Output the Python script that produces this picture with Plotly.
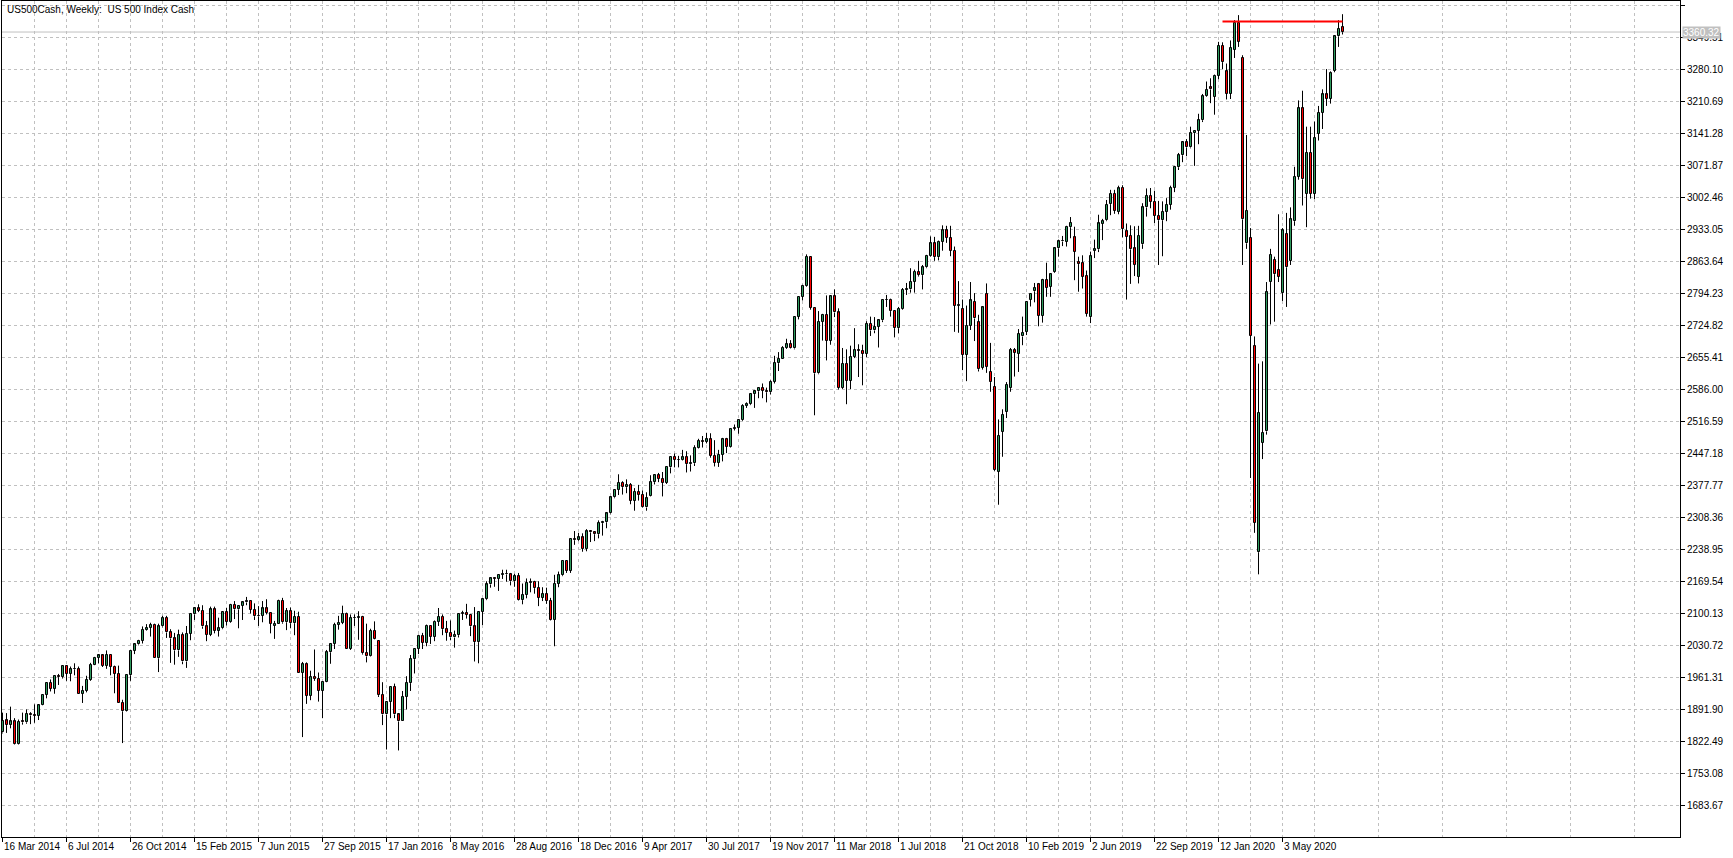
import plotly.graph_objects as go

# ---------------- data: weekly OHLC, week of 16 Mar 2014 .. week of 16 Aug 2020 ----------------
opens = [
    # 2014
    1841, 1867, 1857, 1865, 1815, 1865, 1863, 1881, 1878, 1877, 1901, 1923, 1949, 1936, 1963, 1961,
    1985, 1968, 1978, 1978, 1925, 1932, 1955, 1988, 2003, 2008, 1986, 2010, 1983, 1968, 1906, 1887,
    1965, 2018, 2032, 2040, 2064, 2068, 2075, 2002, 2071,
    # 2015
    2089, 2058, 2045, 2019, 2052, 1995, 2055, 2097, 2110, 2105, 2071, 2053, 2108, 2061, 2067, 2102,
    2081, 2118, 2108, 2116, 2123, 2126, 2107, 2093, 2094, 2110, 2101, 2073, 2076, 2127, 2080, 2104,
    2078, 2092, 1971, 1989, 1921, 1961, 1958, 1931, 1951, 2015, 2033, 2075, 2079, 2099, 2023, 2089,
    2090, 2092, 2013, 2006,
    # 2016
    2061, 2040, 1922, 1880, 1907, 1940, 1880, 1865, 1918, 1948, 2000, 2022, 2050, 2036, 2073, 2048,
    2081, 2092, 2065, 2057, 2047, 2052, 2098, 2100, 2096, 2071, 2037, 2103, 2130, 2162, 2175, 2174,
    2183, 2185, 2184, 2169, 2180, 2128, 2139, 2165, 2168, 2154, 2133, 2141, 2126, 2085, 2164, 2182,
    2213, 2192, 2260, 2258, 2264,
    # 2017
    2239, 2277, 2275, 2271, 2295, 2297, 2316, 2351, 2367, 2383, 2373, 2378, 2344, 2363, 2356, 2329,
    2355, 2384, 2399, 2391, 2382, 2416, 2439, 2432, 2433, 2438, 2423, 2425, 2459, 2473, 2472, 2477,
    2441, 2426, 2443, 2477, 2461, 2500, 2502, 2519, 2549, 2553, 2575, 2581, 2588, 2582, 2579, 2602,
    2642, 2652, 2676, 2683,
    # 2018
    2674, 2743, 2786, 2810, 2873, 2762, 2620, 2732, 2747, 2691, 2787, 2752, 2588, 2641, 2604, 2656,
    2670, 2669, 2663, 2728, 2713, 2721, 2735, 2779, 2780, 2755, 2718, 2760, 2801, 2802, 2819, 2840,
    2833, 2850, 2875, 2902, 2872, 2905, 2930, 2914, 2886, 2767, 2760, 2660, 2723, 2775, 2731, 2632,
    2792, 2623, 2591, 2406,
    # 2019
    2493, 2536, 2588, 2670, 2662, 2700, 2710, 2779, 2798, 2813, 2745, 2822, 2808, 2840, 2891, 2906,
    2905, 2937, 2915, 2861, 2859, 2831, 2742, 2886, 2889, 2944, 2952, 2987, 3010, 2970, 3022, 2928,
    2918, 2891, 2830, 2900, 2980, 3005, 2992, 2962, 2952, 2970, 2986, 3023, 3067, 3093, 3121, 3110,
    3141, 3146, 3169, 3222,
    # 2020
    3240, 3220, 3265, 3330, 3275, 3226, 3322, 3380, 3305, 2902, 2914, 2679, 2232, 2469, 2494, 2818,
    2866, 2845, 2794, 2922, 2864, 2950, 3046, 3195, 3010, 3098, 3009, 3140, 3185, 3225, 3216, 3276,
    3351, 3371,
]

highs = [
    # 2014
    1884, 1883, 1897, 1872, 1869, 1884, 1891, 1885, 1902, 1901, 1924, 1950, 1956, 1963, 1968, 1986,
    1986, 1984, 1991, 1984, 1942, 1964, 1992, 2005, 2011, 2009, 2019, 2011, 1986, 1986, 1912, 1965,
    2019, 2034, 2042, 2071, 2076, 2079, 2077, 2077, 2094,
    # 2015
    2094, 2065, 2057, 2064, 2058, 2072, 2097, 2111, 2119, 2117, 2083, 2114, 2114, 2090, 2103, 2111,
    2120, 2126, 2117, 2124, 2135, 2127, 2121, 2115, 2126, 2130, 2102, 2083, 2129, 2133, 2111, 2112,
    2105, 2103, 1994, 1993, 1975, 2021, 1971, 1952, 2020, 2034, 2079, 2094, 2116, 2101, 2097, 2097,
    2104, 2094, 2077, 2066,
    # 2016
    2082, 2041, 1950, 1909, 1940, 1947, 1881, 1931, 1963, 2009, 2023, 2053, 2057, 2075, 2074, 2084,
    2111, 2097, 2083, 2084, 2062, 2100, 2105, 2120, 2097, 2113, 2104, 2132, 2169, 2176, 2178, 2183,
    2194, 2194, 2187, 2185, 2187, 2164, 2175, 2175, 2170, 2169, 2156, 2155, 2133, 2183, 2190, 2214,
    2214, 2260, 2278, 2274, 2273,
    # 2017
    2282, 2279, 2278, 2301, 2300, 2319, 2352, 2368, 2401, 2386, 2390, 2382, 2371, 2378, 2366, 2362,
    2399, 2400, 2404, 2406, 2416, 2440, 2446, 2441, 2454, 2451, 2442, 2464, 2478, 2484, 2491, 2490,
    2475, 2454, 2480, 2480, 2501, 2509, 2520, 2553, 2557, 2576, 2583, 2590, 2598, 2589, 2605, 2658,
    2666, 2679, 2695, 2692,
    # 2018
    2744, 2787, 2812, 2878, 2874, 2763, 2755, 2749, 2789, 2789, 2802, 2761, 2675, 2672, 2680, 2718,
    2683, 2682, 2733, 2743, 2742, 2737, 2780, 2790, 2782, 2757, 2764, 2805, 2816, 2848, 2845, 2864,
    2855, 2877, 2917, 2916, 2908, 2941, 2940, 2940, 2895, 2820, 2780, 2767, 2818, 2794, 2747, 2766,
    2815, 2686, 2612, 2520,
    # 2019
    2542, 2601, 2675, 2675, 2716, 2743, 2776, 2794, 2816, 2816, 2825, 2860, 2836, 2894, 2910, 2918,
    2940, 2959, 2938, 2873, 2876, 2843, 2884, 2910, 2964, 2955, 2996, 3018, 3018, 3027, 3028, 2945,
    2941, 2939, 2940, 2989, 3021, 3022, 3016, 2994, 2993, 3000, 3027, 3067, 3098, 3122, 3128, 3155,
    3146, 3183, 3226, 3253,
    # 2020
    3260, 3268, 3339, 3338, 3292, 3342, 3386, 3397, 3310, 3137, 2935, 2700, 2641, 2646, 2818, 2890,
    2873, 2965, 2935, 2968, 2980, 3068, 3212, 3233, 3155, 3155, 3166, 3200, 3236, 3280, 3275, 3352,
    3386, 3399,
]

lows = [
    # 2014
    1839, 1840, 1850, 1814, 1814, 1858, 1860, 1859, 1862, 1868, 1900, 1915, 1930, 1925, 1944, 1958,
    1953, 1952, 1965, 1925, 1905, 1928, 1953, 1987, 1991, 1983, 1979, 1965, 1926, 1906, 1818, 1886,
    1953, 2011, 2030, 2034, 2062, 2049, 2002, 1972, 2069,
    # 2015
    2046, 1992, 1988, 2005, 1989, 1981, 2041, 2085, 2102, 2066, 2039, 2050, 2056, 2049, 2065, 2073,
    2079, 2087, 2067, 2085, 2117, 2099, 2085, 2072, 2080, 2097, 2056, 2044, 2076, 2077, 2063, 2067,
    2052, 1970, 1831, 1903, 1911, 1953, 1908, 1872, 1950, 1990, 2022, 2064, 2076, 2022, 2020, 2072,
    2042, 2010, 1993, 2005,
    # 2016
    2043, 1918, 1857, 1804, 1872, 1872, 1802, 1865, 1891, 1931, 1969, 2011, 2022, 2028, 2033, 2039,
    2072, 2052, 2040, 2041, 2025, 2047, 2085, 2088, 2050, 1995, 1991, 2074, 2128, 2155, 2157, 2148,
    2174, 2168, 2160, 2157, 2127, 2119, 2132, 2145, 2142, 2115, 2126, 2120, 2084, 2028, 2156, 2180,
    2187, 2187, 2248, 2256, 2233,
    # 2017
    2234, 2254, 2256, 2262, 2268, 2284, 2314, 2349, 2356, 2357, 2360, 2336, 2322, 2344, 2328, 2322,
    2353, 2379, 2384, 2353, 2380, 2403, 2416, 2416, 2431, 2405, 2407, 2419, 2457, 2459, 2468, 2437,
    2418, 2417, 2429, 2447, 2459, 2496, 2489, 2517, 2545, 2551, 2545, 2566, 2566, 2557, 2574, 2598,
    2625, 2651, 2673, 2673,
    # 2018
    2672, 2737, 2778, 2808, 2758, 2529, 2618, 2691, 2648, 2682, 2742, 2585, 2586, 2553, 2586, 2653,
    2612, 2594, 2655, 2701, 2707, 2676, 2731, 2764, 2743, 2698, 2707, 2758, 2790, 2795, 2795, 2830,
    2802, 2848, 2873, 2864, 2865, 2886, 2903, 2874, 2710, 2708, 2627, 2603, 2714, 2690, 2624, 2628,
    2621, 2580, 2408, 2335,
    # 2019
    2439, 2523, 2580, 2613, 2623, 2681, 2703, 2765, 2774, 2722, 2730, 2786, 2786, 2838, 2873, 2896,
    2895, 2913, 2822, 2797, 2804, 2743, 2729, 2870, 2883, 2909, 2950, 2963, 2966, 2965, 2915, 2780,
    2814, 2831, 2815, 2890, 2960, 2978, 2946, 2855, 2874, 2950, 2975, 3013, 3061, 3078, 3091, 3108,
    3070, 3117, 3165, 3220,
    # 2020
    3206, 3181, 3258, 3280, 3214, 3215, 3304, 3328, 2855, 2890, 2393, 2274, 2184, 2434, 2487, 2726,
    2732, 2818, 2777, 2764, 2855, 2940, 3040, 2984, 2937, 2999, 2998, 3125, 3150, 3200, 3205, 3273,
    3328, 3355,
]

closes = [
    # 2014
    1866, 1857, 1865, 1815, 1864, 1863, 1881, 1878, 1877, 1900, 1923, 1949, 1936, 1963, 1961, 1985,
    1968, 1978, 1978, 1925, 1932, 1955, 1988, 2003, 2008, 1986, 2010, 1983, 1968, 1906, 1887, 1965,
    2018, 2032, 2040, 2064, 2068, 2075, 2002, 2071, 2089,
    # 2015
    2058, 2045, 2019, 2052, 1995, 2055, 2097, 2110, 2105, 2071, 2053, 2108, 2061, 2067, 2102, 2081,
    2118, 2108, 2116, 2123, 2126, 2107, 2093, 2094, 2110, 2101, 2077, 2076, 2127, 2080, 2104, 2078,
    2092, 1971, 1989, 1921, 1961, 1958, 1931, 1951, 2015, 2033, 2075, 2079, 2099, 2023, 2089, 2090,
    2092, 2013, 2006, 2061,
    # 2016
    2044, 1922, 1880, 1907, 1940, 1880, 1865, 1918, 1948, 2000, 2022, 2050, 2036, 2073, 2048, 2081,
    2092, 2065, 2057, 2047, 2052, 2099, 2100, 2096, 2071, 2037, 2103, 2130, 2162, 2175, 2174, 2183,
    2185, 2184, 2169, 2180, 2128, 2139, 2165, 2168, 2154, 2133, 2141, 2126, 2085, 2164, 2182, 2213,
    2192, 2260, 2258, 2264, 2239,
    # 2017
    2277, 2275, 2271, 2295, 2297, 2316, 2351, 2367, 2383, 2373, 2378, 2344, 2363, 2356, 2329, 2349,
    2384, 2399, 2391, 2382, 2416, 2439, 2432, 2433, 2438, 2423, 2425, 2459, 2473, 2472, 2477, 2441,
    2426, 2443, 2477, 2461, 2500, 2502, 2519, 2549, 2553, 2575, 2581, 2588, 2582, 2579, 2602, 2642,
    2652, 2676, 2683, 2674,
    # 2018
    2743, 2786, 2810, 2873, 2762, 2620, 2732, 2747, 2691, 2787, 2752, 2588, 2641, 2604, 2656, 2670,
    2669, 2663, 2728, 2713, 2721, 2735, 2779, 2780, 2755, 2718, 2760, 2801, 2802, 2819, 2840, 2833,
    2850, 2875, 2902, 2872, 2905, 2930, 2914, 2886, 2767, 2768, 2660, 2723, 2778, 2739, 2629, 2763,
    2634, 2601, 2410, 2485,
    # 2019
    2530, 2595, 2670, 2664, 2705, 2708, 2775, 2792, 2805, 2745, 2822, 2805, 2835, 2891, 2906, 2907,
    2938, 2946, 2884, 2857, 2830, 2749, 2874, 2889, 2945, 2950, 2986, 3010, 2972, 3021, 2933, 2916,
    2889, 2856, 2918, 2980, 3005, 2992, 2962, 2952, 2970, 2986, 3023, 3067, 3093, 3121, 3110, 3141,
    3146, 3169, 3221, 3235,
    # 2020
    3236, 3265, 3330, 3295, 3226, 3326, 3380, 3339, 2954, 2972, 2702, 2296, 2535, 2491, 2796, 2877,
    2835, 2829, 2930, 2850, 2954, 3046, 3195, 3041, 3098, 3009, 3130, 3185, 3225, 3216, 3271, 3351,
    3367, 3360,
]

label_weeks = [0, 16, 32, 48, 64, 80, 96, 112, 128, 144, 160, 176, 192, 208, 224, 240, 256, 272, 288, 304, 320]
label_texts = ["16 Mar 2014", "6 Jul 2014", "26 Oct 2014", "15 Feb 2015", "7 Jun 2015", "27 Sep 2015",
               "17 Jan 2016", "8 May 2016", "28 Aug 2016", "18 Dec 2016", "9 Apr 2017", "30 Jul 2017",
               "19 Nov 2017", "11 Mar 2018", "1 Jul 2018", "21 Oct 2018", "10 Feb 2019", "2 Jun 2019",
               "22 Sep 2019", "12 Jan 2020", "3 May 2020"]

price_ticks = [1683.67, 1753.08, 1822.49, 1891.90, 1961.31, 2030.72, 2100.13, 2169.54, 2238.95, 2308.36,
               2377.77, 2447.18, 2516.59, 2586.00, 2655.41, 2724.82, 2794.23, 2863.64, 2933.05, 3002.46,
               3071.87, 3141.28, 3210.69, 3280.10, 3349.51, 3418.92]

bid_price = 3360.32
level_start_week = 305
level_end_week = 335
level_price = 3383

chart_title = "US500Cash, Weekly:&nbsp; US 500 Index Cash"

# ---------------- styling ----------------
BULL = "#2E9B5E"
BEAR = "#FF0000"
GRID = "#C0C0C0"
FONT = "Liberation Sans"

weeks = list(range(len(closes)))
body_base = [min(o, c) for o, c in zip(opens, closes)]
body_len = [max(abs(c - o), 0.01) for o, c in zip(opens, closes)]
body_col = [BULL if c >= o else BEAR for o, c in zip(opens, closes)]

wick_x, wick_y = [], []
for w, o, h, l, c in zip(weeks, opens, highs, lows, closes):
    top, bot = max(o, c), min(o, c)
    if h > top:
        wick_x += [w, w, None]
        wick_y += [top, h, None]
    if l < bot:
        wick_x += [w, w, None]
        wick_y += [l, bot, None]

fig = go.Figure()
fig.add_trace(go.Scatter(x=wick_x, y=wick_y, mode="lines",
                         line=dict(color="black", width=1), hoverinfo="skip"))
fig.add_trace(go.Bar(x=weeks, y=body_len, base=body_base, width=0.5,
                     marker=dict(color=body_col, line=dict(color="black", width=1)),
                     hoverinfo="skip"))

fig.update_layout(
    width=1733, height=858,
    margin=dict(l=2, r=53, t=1, b=21),
    paper_bgcolor="white", plot_bgcolor="white",
    showlegend=False, bargap=0,
    font=dict(family=FONT, size=10, color="black"),
)

fig.update_xaxes(
    range=[-0.125, 419.375],
    tickmode="array", tickvals=label_weeks, showticklabels=False,
    ticks="outside", ticklen=4, tickcolor="black", tickwidth=1,
    showgrid=True, gridcolor=GRID, gridwidth=1, griddash="3px,3px",
    minor=dict(tickmode="array", tickvals=list(range(8, 420, 16)), showgrid=True,
               gridcolor=GRID, gridwidth=1, griddash="3px,3px", ticks=""),
    showline=True, linecolor="black", linewidth=1, mirror=True, zeroline=False,
)

fig.update_yaxes(
    range=[1614.26, 3427.60], side="right",
    tickmode="array", tickvals=price_ticks, ticktext=[f"{v:.2f}" for v in price_ticks],
    ticks="outside", ticklen=4, tickcolor="black", tickwidth=1,
    tickfont=dict(family=FONT, size=10, color="black"),
    showgrid=True, gridcolor=GRID, gridwidth=1, griddash="3px,3px",
    showline=True, linecolor="black", linewidth=1, mirror=True, zeroline=False,
)

# bid line
fig.add_shape(type="line", xref="paper", x0=0, x1=1, yref="y", y0=bid_price, y1=bid_price,
              line=dict(color=GRID, width=1), layer="below")
# red horizontal level
fig.add_shape(type="line", xref="x", x0=level_start_week, x1=level_end_week, yref="y",
              y0=level_price, y1=level_price, line=dict(color="#FF0000", width=2), layer="above")

# bid price label
fig.add_annotation(xref="paper", x=1, xanchor="left", xshift=2, yref="y", y=bid_price,
                   text=f"{bid_price:.2f}", showarrow=False, bgcolor=GRID, borderpad=0,
                   font=dict(family=FONT, size=10, color="white"))

# title
fig.add_annotation(xref="paper", x=0, xanchor="left", xshift=3, yref="paper", y=1, yanchor="top",
                   yshift=-1, text=chart_title, showarrow=False,
                   font=dict(family=FONT, size=10, color="black"))

# date labels (left-aligned at tick)
for w, t in zip(label_weeks, label_texts):
    fig.add_annotation(xref="x", x=w, xanchor="left", xshift=-1, yref="paper", y=0, yanchor="top",
                       yshift=-2, text=t, showarrow=False,
                       font=dict(family=FONT, size=10, color="black"))

fig.write_html(
    "out.html",
    config={"displayModeBar": False},
    post_script="document.body.style.margin='0';document.body.style.padding='0';"
                "document.body.style.overflow='hidden';",
)
